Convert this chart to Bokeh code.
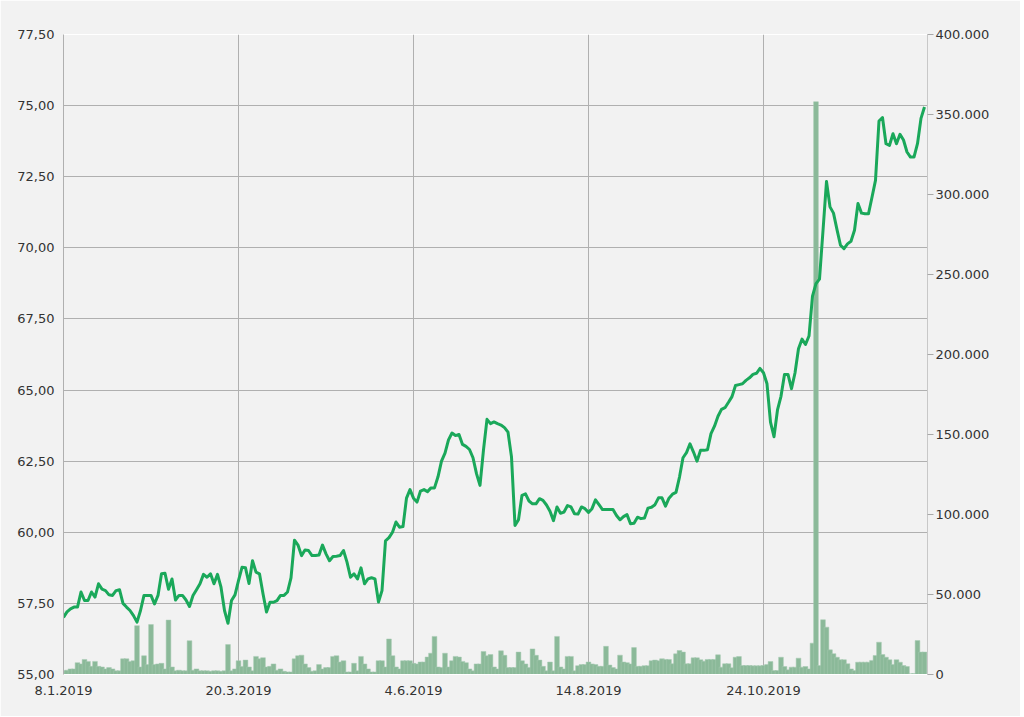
from bokeh.plotting import figure
from bokeh.models import Range1d, LinearAxis, FixedTicker, CustomJSTickFormatter, ColumnDataSource
from bokeh.embed import file_html
from bokeh.resources import INLINE

# Closing price per trading day (index 0 = 8.1.2019)
price = [
    57.01, 57.2, 57.31, 57.37, 57.37, 57.9, 57.6, 57.6, 57.9, 57.72,
    58.19, 58.0, 57.95, 57.8, 57.78, 57.95, 57.98, 57.5, 57.37, 57.25,
    57.07, 56.84, 57.25, 57.78, 57.78, 57.78, 57.48, 57.78, 58.54, 58.56,
    58.0, 58.36, 57.62, 57.78, 57.78, 57.62, 57.39, 57.78, 57.98, 58.19,
    58.52, 58.42, 58.54, 58.19, 58.52, 58.07, 57.25, 56.8, 57.6, 57.8,
    58.3, 58.77, 58.75, 58.2, 59.0, 58.6, 58.54, 57.84, 57.2, 57.54,
    57.54, 57.6, 57.78, 57.78, 57.9, 58.4, 59.72, 59.55, 59.18, 59.38,
    59.36, 59.18, 59.18, 59.2, 59.55, 59.24, 59.0, 59.15, 59.16, 59.18,
    59.36, 58.95, 58.42, 58.54, 58.36, 58.75, 58.19, 58.36, 58.4, 58.36,
    57.55, 57.95, 59.7, 59.81, 60.0, 60.36, 60.18, 60.2, 61.2, 61.5,
    61.2, 61.06, 61.45, 61.5, 61.43, 61.56, 61.56, 61.95, 62.5, 62.78,
    63.25, 63.49, 63.4, 63.44, 63.09, 63.02, 62.91, 62.62, 62.06, 61.65,
    62.9, 63.97, 63.82, 63.88, 63.82, 63.77, 63.68, 63.52, 62.65, 60.24,
    60.44, 61.3, 61.35, 61.1, 61.0, 61.0, 61.18, 61.12, 60.96, 60.74,
    60.41, 60.89, 60.67, 60.71, 60.94, 60.89, 60.65, 60.64, 60.89, 60.83,
    60.7, 60.83, 61.14, 60.97, 60.8, 60.8, 60.8, 60.8, 60.59, 60.44,
    60.55, 60.62, 60.3, 60.32, 60.53, 60.48, 60.5, 60.85, 60.88, 60.97,
    61.21, 61.21, 60.92, 61.2, 61.34, 61.4, 61.94, 62.62, 62.8, 63.11,
    62.82, 62.5, 62.88, 62.88, 62.9, 63.47, 63.73, 64.08, 64.32, 64.38,
    64.57, 64.77, 65.16, 65.19, 65.22, 65.34, 65.43, 65.55, 65.59, 65.76,
    65.61, 65.22, 63.87, 63.36, 64.3, 64.78, 65.55, 65.55, 65.05, 65.6,
    66.45, 66.79, 66.6, 66.9, 68.3, 68.74, 68.9, 70.6, 72.33, 71.44,
    71.22, 70.64, 70.09, 69.97, 70.14, 70.23, 70.62, 71.56, 71.22, 71.2,
    71.2, 71.78, 72.37, 74.46, 74.58, 73.66, 73.6, 74.01, 73.66, 73.99,
    73.79, 73.37, 73.19, 73.19, 73.66, 74.55, 74.95,
]

# Traded volume per trading day
volume = [
    2300, 2700, 3500, 3500, 7400, 6600, 9400, 8200, 5100, 8200,
    5100, 4700, 3500, 4300, 3500, 2300, 2300, 9800, 9800, 8200,
    8600, 30500, 4700, 11700, 6200, 31200, 6200, 6600, 7000, 3500,
    34000, 4700, 2300, 2700, 2300, 2300, 21100, 2700, 3500, 2300,
    2300, 2300, 2000, 2300, 2300, 2000, 2300, 18700, 2300, 3500,
    8600, 5000, 9000, 4700, 2300, 11300, 9800, 10500, 4700, 5100,
    6600, 2700, 3500, 2000, 1600, 1600, 9800, 11700, 12100, 6600,
    4300, 2000, 2300, 6200, 3500, 4300, 4300, 11300, 11700, 7800,
    8600, 1600, 1600, 7000, 2300, 11300, 6600, 3500, 1600, 1600,
    8600, 8600, 4700, 22200, 11700, 4700, 3500, 8600, 8600, 8600,
    7000, 6600, 7800, 7800, 10900, 13300, 23800, 4700, 4300, 13300,
    4700, 8600, 11300, 10900, 8200, 7400, 3500, 2300, 6600, 6600,
    14400, 11700, 12500, 4700, 3500, 14800, 12000, 4300, 4300, 4300,
    14000, 8600, 6600, 4300, 16000, 12000, 9000, 5100, 2300, 7800,
    2300, 23800, 4700, 3500, 11300, 11300, 2300, 5500, 6200, 6200,
    7800, 6600, 6200, 5100, 5100, 17600, 5900, 4300, 3500, 12100,
    7800, 7400, 6600, 16800, 5100, 5100, 5500, 5500, 8600, 9000,
    8600, 9800, 9400, 9400, 6700, 12900, 15000, 14000, 6700, 6700,
    10400, 10400, 9200, 8300, 9400, 9400, 9400, 12300, 4600, 6700,
    6700, 4200, 10800, 11200, 5600, 5600, 5600, 5400, 5400, 5400,
    5600, 6200, 8100, 2500, 2500, 10800, 5000, 2900, 4600, 4600,
    10200, 4600, 5000, 3500, 19600, 358000, 5600, 34200, 29600, 15400,
    13000, 10800, 9200, 9200, 6700, 3500, 2500, 7700, 7700, 7700,
    7700, 8800, 11900, 20200, 12500, 10800, 9200, 6200, 9200, 7700,
    5600, 5000, 400, 600, 21200, 14000, 14000,
]

tick_idx = [0, 50, 100, 150, 200]
tick_labels = ["8.1.2019", "20.3.2019", "4.6.2019", "14.8.2019", "24.10.2019"]
price_ticks = [55.0, 57.5, 60.0, 62.5, 65.0, 67.5, 70.0, 72.5, 75.0, 77.5]
volume_ticks = [0, 50000, 100000, 150000, 200000, 250000, 300000, 350000, 400000]

n = len(price)
src = ColumnDataSource(dict(i=list(range(n)), price=price, vol=volume[:n]))

BG = "#f2f2f2"
TXT = "#333333"
FONT = "DejaVu Sans"

p = figure(frame_width=864, frame_height=640, output_backend="svg", toolbar_location=None,
           x_range=Range1d(0, 246.86), y_range=Range1d(55, 77.5),
           min_border_left=63, min_border_top=34, min_border_right=93, min_border_bottom=42,
           background_fill_color=BG, border_fill_color=BG,
           outline_line_color="#ffffff", outline_line_width=1)
p.extra_y_ranges = {"vol": Range1d(0, 400000)}

p.vbar(x="i", top="vol", bottom=0, width=1.35, y_range_name="vol", source=src,
       fill_color="#8bb999", line_color="#a6cbb2", line_width=0.5)
p.line(x="i", y="price", source=src, line_width=3, line_color="#1aa85a", line_join="round")

# bottom axis
xa = p.xaxis[0]
xa.ticker = FixedTicker(ticks=tick_idx)
xa.major_label_overrides = {k: v for k, v in zip(tick_idx, tick_labels)}
xa.axis_line_color = "#ffffff"
xa.major_tick_line_color = None
xa.minor_tick_line_color = None
xa.major_label_standoff = 5
xa.major_label_text_font = FONT
xa.major_label_text_font_size = "13px"
xa.major_label_text_color = TXT

# left axis
ya = p.yaxis[0]
ya.ticker = FixedTicker(ticks=price_ticks)
ya.formatter = CustomJSTickFormatter(code="return tick.toFixed(2).replace('.', ',');")
ya.axis_line_color = "#b0b0b0"
ya.major_tick_line_color = None
ya.minor_tick_line_color = None
ya.major_label_standoff = 3
ya.major_label_text_font = FONT
ya.major_label_text_font_size = "13px"
ya.major_label_text_color = TXT

# right axis
ra = LinearAxis(y_range_name="vol",
                ticker=FixedTicker(ticks=volume_ticks),
                formatter=CustomJSTickFormatter(
                    code=r"return Math.round(tick).toString().replace(/\B(?=(\d{3})+(?!\d))/g, '.');"))
ra.axis_line_color = "#c8c8c8"
ra.major_tick_line_color = "#a8a8a8"
ra.major_tick_in = 0
ra.major_tick_out = 6
ra.minor_tick_line_color = None
ra.major_label_standoff = 2
ra.major_label_text_font = FONT
ra.major_label_text_font_size = "13px"
ra.major_label_text_color = TXT
p.add_layout(ra, "right")

p.xgrid.grid_line_color = "#b0b0b0"
p.ygrid.grid_line_color = "#b0b0b0"
p.xgrid.ticker = FixedTicker(ticks=tick_idx)
p.ygrid.ticker = FixedTicker(ticks=price_ticks)

html = file_html(p, INLINE)
html = html.replace("<body>", '<body style="background-color:#f2f2f2;">', 1)
open("out.html", "w").write(html)
